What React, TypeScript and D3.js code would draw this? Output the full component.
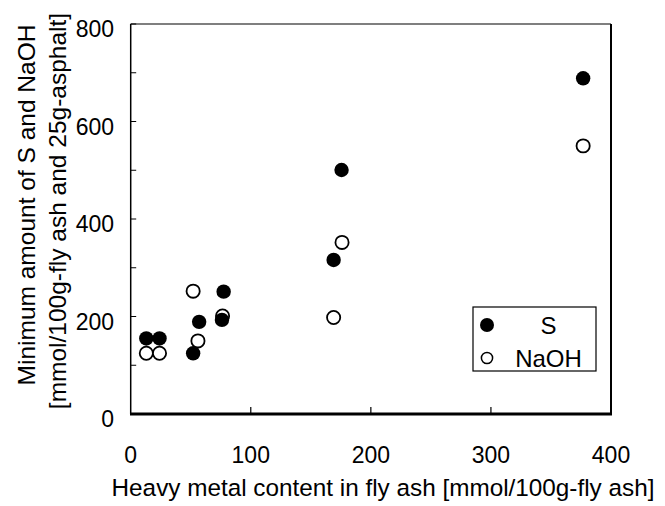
import React from "react";
import * as d3 from "d3";

const sX = [13, 24, 52, 57, 77.4, 76, 169, 175.6, 376.8];
const sY = [155, 155, 124.5, 189, 251, 193, 316, 500.5, 688.6];
const naohX = [13, 24, 52, 56, 76.5, 169, 176, 376.8];
const naohY = [124.5, 124.5, 252, 150, 201, 198, 352, 550];
const xTicks = [0, 100, 200, 300, 400];
const yTicks = [0, 200, 400, 600, 800];
const yMinor = [100, 300, 500, 700];
const legendLabels = ["S", "NaOH"];

export default function App() {
  const W = 665, H = 506;
  const x = d3.scaleLinear().domain([0, 400]).range([130.7, 611]);
  const y = d3.scaleLinear().domain([0, 800]).range([414, 24]);
  const font = "Liberation Sans, Arial, Helvetica, sans-serif";
  return (
    <svg width={W} height={H} style={{ display: "block", position: "absolute", left: 0, top: 0 }}>
      <rect width={W} height={H} fill="#fff" />
      {/* frame */}
      <line x1={x(0)} x2={x(400)} y1={y(800)} y2={y(800)} stroke="#000" strokeWidth={1.2} />
      <line x1={x(400)} x2={x(400)} y1={y(800)} y2={y(0)} stroke="#000" strokeWidth={2} />
      <line x1={x(0)} x2={x(0)} y1={y(800)} y2={y(0)} stroke="#000" strokeWidth={1.5} />
      <line x1={x(0) - 0.7} x2={x(400) + 1} y1={y(0)} y2={y(0)} stroke="#000" strokeWidth={3} />
      {/* ticks */}
      {yTicks.concat(yMinor).map((t) => (
        <line key={"yt" + t} x1={x(0)} x2={x(0) + 5.5} y1={y(t)} y2={y(t)} stroke="#000" strokeWidth={1} />
      ))}
      {xTicks.slice(1, 4).map((t) => (
        <line key={"xt" + t} x1={x(t)} x2={x(t)} y1={y(0)} y2={y(0) - 7} stroke="#000" strokeWidth={1.2} />
      ))}
      {/* tick labels */}
      {yTicks.map((t) => (
        <text key={"yl" + t} x={114} y={y(t) + 13} textAnchor="end" fontFamily={font} fontSize={23} fill="#000">
          {t}
        </text>
      ))}
      {xTicks.map((t) => (
        <text key={"xl" + t} x={x(t)} y={463} textAnchor="middle" fontFamily={font} fontSize={23} fill="#000">
          {t}
        </text>
      ))}
      {/* axis titles */}
      <text x={383} y={496} textAnchor="middle" fontFamily={font} fontSize={24.3} fill="#000">
        Heavy metal content in fly ash [mmol/100g-fly ash]
      </text>
      <text transform={`translate(35,205) rotate(-90)`} textAnchor="middle" fontFamily={font} fontSize={24.5} fill="#000">
        Minimum amount of S and NaOH
      </text>
      <text transform={`translate(66,211) rotate(-90)`} textAnchor="middle" fontFamily={font} fontSize={24.5} fill="#000">
        [mmol/100g-fly ash and 25g-asphalt]
      </text>
      {/* data */}
      {naohX.map((v, i) => (
        <circle key={"n" + i} cx={x(v)} cy={y(naohY[i])} r={6.6} fill="#fff" stroke="#000" strokeWidth={1.8} />
      ))}
      {sX.map((v, i) => (
        <circle key={"s" + i} cx={x(v)} cy={y(sY[i])} r={7.2} fill="#000" />
      ))}
      {/* legend */}
      <rect x={473} y={307} width={123} height={64} fill="#fff" stroke="#000" strokeWidth={1.2} />
      <circle cx={487} cy={325} r={7} fill="#000" />
      <circle cx={487} cy={358} r={5.6} fill="#fff" stroke="#000" strokeWidth={1.5} />
      <text x={548.5} y={333.5} textAnchor="middle" fontFamily={font} fontSize={24} fill="#000">
        {legendLabels[0]}
      </text>
      <text x={548.5} y={366.5} textAnchor="middle" fontFamily={font} fontSize={24} fill="#000">
        {legendLabels[1]}
      </text>
    </svg>
  );
}
